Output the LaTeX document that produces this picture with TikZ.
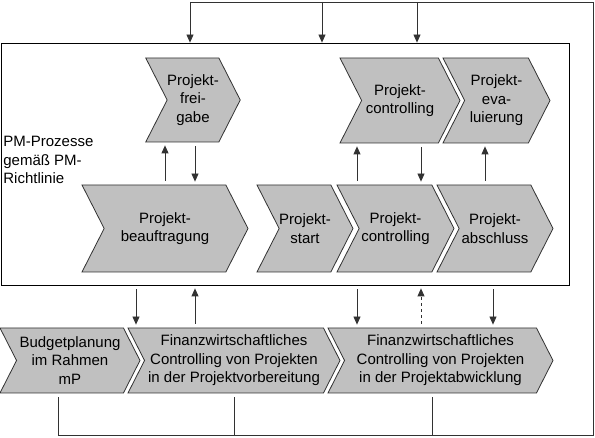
\documentclass[tikz,border=0pt]{standalone}
\usepackage{fontspec}
\setmainfont{Liberation Sans}
\usepackage{xcolor}
\usetikzlibrary{shapes.symbols,arrows.meta}

\definecolor{boxgray}{RGB}{192,192,192}
\definecolor{linegray}{RGB}{50,50,50}

\tikzset{
  chev/.style={signal,signal from=west,signal to=east,signal pointer angle=126,
    draw=linegray,fill=boxgray,inner sep=0pt,align=center,
    font=\fontsize{15}{18.5}\selectfont},
  arr/.style={draw=linegray,-{Triangle[length=8pt,width=7pt]},shorten <=4pt,shorten >=3pt},
}

\begin{document}
\begin{tikzpicture}[x=1pt,y=1pt,thick,line width=0.8pt]
\useasboundingbox (0,0) rectangle (595,438);
% Rahmen PM-Prozesse
\node[draw=black,minimum width=568pt,minimum height=242pt,inner sep=0pt] (pm) at (285,274) {};
\node[anchor=west,align=left,inner sep=0pt,font=\fontsize{15}{18.5}\selectfont] (pmtext) at (3,278) {PM-Prozesse\\gemäß PM-\\Richtlinie};
% obere Reihe
\node[chev,minimum width=94pt,minimum height=84pt] (pf) at (193,338) {Projekt-\\frei-\\gabe};
\node[chev,minimum width=120pt,minimum height=85pt] (pct) at (400,337.5) {Projekt-\\controlling};
\node[chev,minimum width=107pt,minimum height=85pt] (pe) at (496.5,337.5) {Projekt-\\eva-\\luierung};
% untere Reihe
\node[chev,minimum width=166pt,minimum height=87pt] (pb) at (165,209.5) {Projekt-\\beauftragung};
\node[chev,minimum width=94pt,minimum height=87pt] (ps) at (305,209.5) {Projekt-\\start};
\node[chev,minimum width=117pt,minimum height=87pt] (pcb) at (395.5,209.5) {Projekt-\\controlling};
\node[chev,minimum width=116pt,minimum height=87pt] (pa) at (495,209.5) {Projekt-\\abschluss};
% Finanzcontrolling
\node[chev,minimum width=140pt,minimum height=65pt] (bud) at (70,77.5) {Budgetplanung\\im Rahmen\\mP};
\node[chev,minimum width=212pt,minimum height=65pt] (fv) at (234,77.5) {Finanzwirtschaftliches\\Controlling von Projekten\\in der Projektvorbereitung};
\node[chev,minimum width=225pt,minimum height=65pt] (fa) at (440.5,77.5) {Finanzwirtschaftliches\\Controlling von Projekten\\in der Projektabwicklung};
% Pfeile im Rahmen
\draw[arr] (pb.north) -- (pb.north |- pf.south);
\draw[arr] ([xshift=2pt]pf.south) -- ([xshift=2pt]pf.south |- pb.north);
\draw[arr] ([xshift=-38.5pt]pcb.north) -- ([xshift=-38.5pt]pcb.north |- pct.south);
\draw[arr] ([xshift=21pt]pct.south) -- ([xshift=21pt]pct.south |- pcb.north);
\draw[arr] ([xshift=-10pt]pa.north) -- ([xshift=-10pt]pa.north |- pe.south);
% Pfeile zwischen Rahmen und Finanzcontrolling
\draw[arr] ([xshift=-98pt]fv.north |- pm.south) -- ([xshift=-98pt]fv.north);
\draw[arr] ([xshift=-39pt]fv.north) -- ([xshift=-39pt]fv.north |- pm.south);
\draw[arr] ([xshift=-83.5pt]fa.north |- pm.south) -- ([xshift=-83.5pt]fa.north);
\draw[arr,dashed] ([xshift=-19.5pt]fa.north) -- ([xshift=-19.5pt]fa.north |- pm.south);
\draw[arr] ([xshift=52.5pt]fa.north |- pm.south) -- ([xshift=52.5pt]fa.north);
% Rueckkopplung
\coordinate (r1) at (58,3);
\coordinate (r2) at (593,3);
\coordinate (r3) at (593,436);
\coordinate (r4) at (190,436);
\draw[linegray,shorten <=4pt] ([xshift=-12pt]bud.south) -- ([xshift=-12pt]bud.south |- r1);
\draw[linegray,shorten <=4pt] (fv.south) -- (fv.south |- r1);
\draw[linegray,shorten <=4pt] ([xshift=-8.5pt]fa.south) -- ([xshift=-8.5pt]fa.south |- r1);
\draw[linegray] (r1) -- (r2) -- (r3) -- (r4);
\draw[arr,shorten <=0pt,shorten >=0pt] (r4) -- (r4 |- pm.north);
\draw[arr,shorten <=0pt,shorten >=0pt] (322,436) coordinate (t2) -- (t2 |- pm.north);
\draw[arr,shorten <=0pt,shorten >=0pt] (417,436) coordinate (t3) -- (t3 |- pm.north);
\end{tikzpicture}
\end{document}
